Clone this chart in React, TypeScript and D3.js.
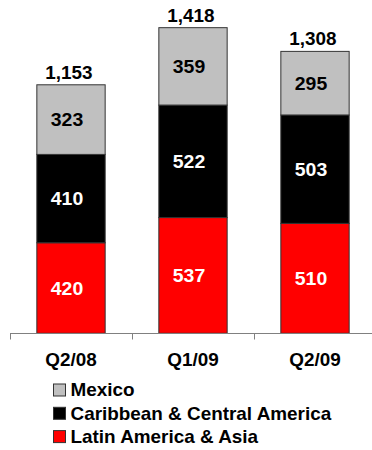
import React from "react";
import * as d3 from "d3";

const categories = ["Q2/08", "Q1/09", "Q2/09"];
const seriesNames = ["Latin America & Asia", "Caribbean & Central America", "Mexico"];
const latinAsia = [420, 537, 510];
const caribbean = [410, 522, 503];
const mexico = [323, 359, 295];
const totals = [1153, 1418, 1308];
const colors = ["#FF0000", "#000000", "#C0C0C0"];
const labelColors = ["#FFFFFF", "#FFFFFF", "#000000"];
const legendOrder = [2, 1, 0];

const W = 372;
const H = 450;
const FONT = "'Liberation Sans', Arial, sans-serif";
const SX = 1.08;

function SText({ x, y, size, fill, children }: any) {
  return (
    <g transform={`translate(${x},${y}) scale(${SX},1)`}>
      <text x={0} y={0} fontSize={size} fontWeight="bold" fontFamily={FONT} fill={fill} textAnchor="middle">
        {children}
      </text>
    </g>
  );
}

export default function App() {
  const series = [latinAsia, caribbean, mexico];
  const rows = categories.map((c, i) => ({
    cat: c,
    v0: latinAsia[i],
    v1: caribbean[i],
    v2: mexico[i],
  }));
  const stack = d3.stack<any>().keys(["v0", "v1", "v2"])(rows);

  const x = d3.scaleBand().domain(categories).range([10, 376]).paddingInner(0.44).paddingOuter(0.22);
  const y = d3.scaleLinear().domain([0, 1500]).range([333.3, 10]);
  const fmt = d3.format(",");

  const ticks = [0, 1, 2, 3].map((i) => 10 + i * x.step());

  return (
    <svg width={W} height={H} style={{ position: "absolute", left: 0, top: 0 }}>
      <rect width={W} height={H} fill="#fff" />
      {stack.map((layer, si) =>
        layer.map((d, ci) => {
          const x0 = x(categories[ci])!;
          const y0 = y(d[1]);
          const h = y(d[0]) - y(d[1]);
          return (
            <rect key={`${si}-${ci}`} x={x0} y={y0} width={x.bandwidth()} height={h} fill={colors[si]} stroke="#333" strokeWidth={1} />
          );
        })
      )}
      {stack.map((layer, si) =>
        layer.map((d, ci) => {
          const x0 = x(categories[ci])!;
          const y0 = y(d[1]);
          const h = y(d[0]) - y(d[1]);
          return (
            <SText key={`l${si}-${ci}`} x={x0 + x.bandwidth() / 2 - 4} y={y0 + h / 2 + 6.5} size={18} fill={labelColors[si]}>
              {series[si][ci]}
            </SText>
          );
        })
      )}
      {categories.map((c, i) => (
        <SText key={c} x={x(c)! + x.bandwidth() / 2 - 2} y={y(totals[i]) - 6} size={17.5} fill="#000">
          {fmt(totals[i])}
        </SText>
      ))}
      <line x1={10} x2={W} y1={333.5} y2={333.5} stroke="#808080" strokeWidth={1} />
      {ticks.map((t, i) => (
        <line key={i} x1={Math.round(t) + 0.5} x2={Math.round(t) + 0.5} y1={333.5} y2={339.5} stroke="#808080" strokeWidth={1} />
      ))}
      {categories.map((c) => (
        <SText key={c} x={x(c)! + x.bandwidth() / 2} y={366} size={17.5} fill="#000">
          {c}
        </SText>
      ))}
      {legendOrder.map((si, k) => {
        const cy = 390 + k * 23.3;
        return (
          <g key={si}>
            <rect x={53.5} y={cy - 6} width={12} height={12} fill={colors[si]} stroke="#333" strokeWidth={1} />
            <g transform={`translate(70.5,${cy + 6.3}) scale(${SX},1)`}>
              <text x={0} y={0} fontSize={17.5} fontWeight="bold" fontFamily={FONT} fill="#000">
                {seriesNames[si]}
              </text>
            </g>
          </g>
        );
      })}
    </svg>
  );
}
